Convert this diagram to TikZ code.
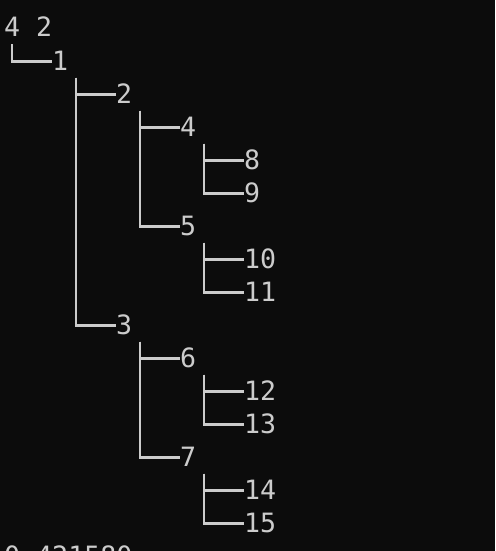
\documentclass[tikz,border=0pt]{standalone}
\usepackage{fontspec}
\newfontfamily\termfont{DejaVu Sans Mono}
\definecolor{termbg}{HTML}{0C0C0C}
\definecolor{termfg}{HTML}{CCCCCC}
\begin{document}
\begin{tikzpicture}[x=1pt,y=-1pt,
  lbl/.style={anchor=west,inner sep=0pt,text=termfg,font=\termfont\fontsize{26.6}{30}\selectfont,text height=18pt,text depth=0pt},
  branch/.style={draw=termfg,line width=2.4pt}]
\useasboundingbox (0,0) rectangle (495,551);
\fill[termbg] (0,0) rectangle (495,551);
\clip (0,0) rectangle (495,551);
% rows: center y = 28 + 33 r ; cols: x = 4 + 16 c
\node[lbl] (t0) at (4,28) {4 2};
\node[lbl] (n1) at (52,61.5) {1};
\node[lbl] (n2) at (116,94.5) {2};
\node[lbl] (n4) at (180,127.5) {4};
\node[lbl] (n8) at (244,160.5) {8};
\node[lbl] (n9) at (244,193.5) {9};
\node[lbl] (n5) at (180,226.5) {5};
\node[lbl] (n10) at (244,259.5) {10};
\node[lbl] (n11) at (244,292.5) {11};
\node[lbl] (n3) at (116,325.5) {3};
\node[lbl] (n6) at (180,358.5) {6};
\node[lbl] (n12) at (244,391.5) {12};
\node[lbl] (n13) at (244,424.5) {13};
\node[lbl] (n7) at (180,457.5) {7};
\node[lbl] (n14) at (244,490.5) {14};
\node[lbl] (n15) at (244,523.5) {15};
\node[lbl] (b0) at (4,556) {0 421580};
% branch origins (top of first child row, column centre)
\coordinate (v1) at (12,44.5);
\coordinate (v2) at (76,77.5);
\coordinate (v4) at (140,110.5);
\coordinate (v8) at (204,143.5);
\coordinate (v10) at (204,242.5);
\coordinate (v6) at (140,341.5);
\coordinate (v12) at (204,374.5);
\coordinate (v14) at (204,473.5);
\draw[branch] (v1) |- (n1.west);
\draw[branch] (v2) |- (n2.west);
\draw[branch] (v2) |- (n3.west);
\draw[branch] (v4) |- (n4.west);
\draw[branch] (v4) |- (n5.west);
\draw[branch] (v8) |- (n8.west);
\draw[branch] (v8) |- (n9.west);
\draw[branch] (v10) |- (n10.west);
\draw[branch] (v10) |- (n11.west);
\draw[branch] (v6) |- (n6.west);
\draw[branch] (v6) |- (n7.west);
\draw[branch] (v12) |- (n12.west);
\draw[branch] (v12) |- (n13.west);
\draw[branch] (v14) |- (n14.west);
\draw[branch] (v14) |- (n15.west);
\end{tikzpicture}
\end{document}
